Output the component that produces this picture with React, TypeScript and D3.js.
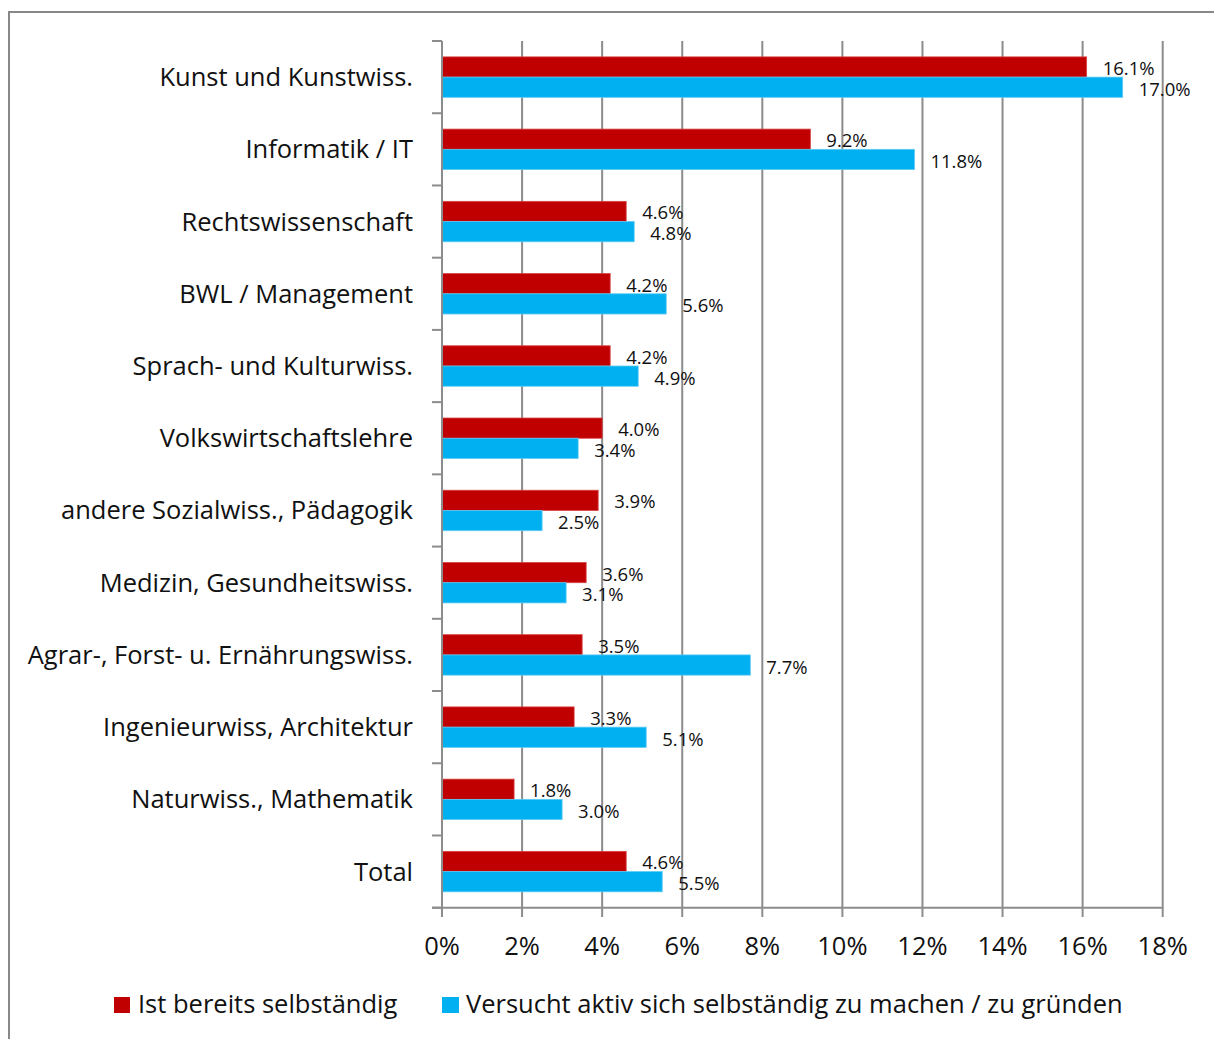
import React, { useEffect } from "react";
import * as d3 from "d3";

const categories = [
  "Kunst und Kunstwiss.",
  "Informatik / IT",
  "Rechtswissenschaft",
  "BWL / Management",
  "Sprach- und Kulturwiss.",
  "Volkswirtschaftslehre",
  "andere Sozialwiss., Pädagogik",
  "Medizin, Gesundheitswiss.",
  "Agrar-, Forst- u. Ernährungswiss.",
  "Ingenieurwiss, Architektur",
  "Naturwiss., Mathematik",
  "Total",
];
const selbstaendig = [16.1, 9.2, 4.6, 4.2, 4.2, 4.0, 3.9, 3.6, 3.5, 3.3, 1.8, 4.6];
const versucht = [17.0, 11.8, 4.8, 5.6, 4.9, 3.4, 2.5, 3.1, 7.7, 5.1, 3.0, 5.5];
const xTicks = [0, 2, 4, 6, 8, 10, 12, 14, 16, 18];
const seriesNames = [
  "Ist bereits selbständig",
  "Versucht aktiv sich selbständig zu machen / zu gründen",
];

const W = 1214;
const H = 1039;
const RED = "#C00000";
const BLUE = "#00B0F0";
const GRID = "#8C8C8C";
const FONT = "'Open Sans', sans-serif";

export default function App() {
  useEffect(() => {
    document.body.style.margin = "0";
  }, []);

  const x = d3.scaleLinear().domain([0, 18]).range([442, 1162.7]);
  const y = d3.scaleBand<string>().domain(categories).range([41, 907.7]).padding(0);
  const bh = y.bandwidth() * 0.28;
  const boundaries = d3.range(categories.length + 1).map((i) => 41 + i * y.step());

  return (
    <svg width={W} height={H} style={{ display: "block", fontFamily: FONT }}>
      <rect x={0} y={0} width={W} height={H} fill="#fff" />
      <rect x={9} y={12} width={W + 20} height={H + 20} fill="none" stroke="#888" strokeWidth={2} />
      {xTicks.map((t) => (
        <line key={"g" + t} x1={x(t)} x2={x(t)} y1={41} y2={917} stroke={GRID} strokeWidth={2} />
      ))}
      {boundaries.map((b, i) => (
        <line key={"yt" + i} x1={432} x2={442} y1={b} y2={b} stroke={GRID} strokeWidth={2} />
      ))}
      {categories.map((c, i) => {
        const cy = (y(c) as number) + y.bandwidth() / 2;
        return (
          <g key={c}>
            <rect x={x(0)} y={cy - bh} width={x(selbstaendig[i]) - x(0)} height={bh} fill={RED} stroke="#D84040" strokeWidth={0.8} />
            <rect x={x(0)} y={cy} width={x(versucht[i]) - x(0)} height={bh} fill={BLUE} stroke="#5CCBF5" strokeWidth={0.8} />
            <text x={x(selbstaendig[i]) + 16} y={cy - bh / 2 + 0.5} dominantBaseline="central" fontSize={18.5} fill="#111">
              {selbstaendig[i].toFixed(1) + "%"}
            </text>
            <text x={x(versucht[i]) + 16} y={cy + bh / 2 + 1} dominantBaseline="central" fontSize={18.5} fill="#111">
              {versucht[i].toFixed(1) + "%"}
            </text>
            <text x={413} y={cy + 9} textAnchor="end" fontSize={25.5} fill="#111">
              {c}
            </text>
          </g>
        );
      })}
      <line x1={442} x2={442} y1={41} y2={917} stroke={GRID} strokeWidth={2} />
      <line x1={432} x2={1163} y1={907.7} y2={907.7} stroke={GRID} strokeWidth={2} />
      {xTicks.map((t) => (
        <text key={"xl" + t} x={x(t)} y={955} textAnchor="middle" fontSize={25.5} fill="#111">
          {t + "%"}
        </text>
      ))}
      <rect x={114} y={997} width={16} height={16} fill={RED} />
      <text x={138} y={1013} fontSize={25.5} fill="#111">{seriesNames[0]}</text>
      <rect x={442} y={997} width={17} height={16} fill={BLUE} />
      <text x={466} y={1013} fontSize={25.5} fill="#111">{seriesNames[1]}</text>
    </svg>
  );
}
